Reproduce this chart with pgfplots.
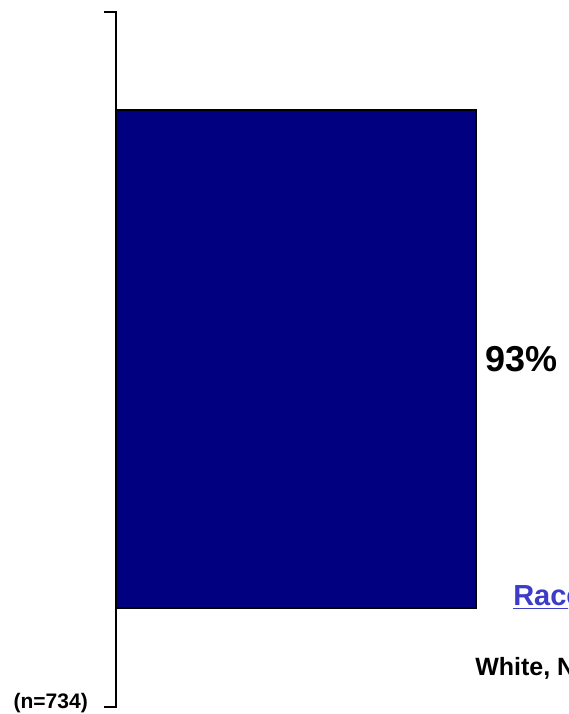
\documentclass[border=0pt]{standalone}
\usepackage{pgfplots}
\pgfplotsset{compat=1.18}
\usepackage{fontspec}
\setmainfont{Liberation Sans}
\definecolor{barnavy}{RGB}{0,0,128}
\definecolor{raceblue}{RGB}{60,60,200}
\begin{document}
\begin{tikzpicture}
\useasboundingbox (0,0) rectangle (426pt,535.5pt);
\clip (0,0) rectangle (426pt,535.5pt);
\begin{axis}[
  at={(0,0)}, anchor=south west,
  scale only axis, width=426pt, height=535.5pt,
  xmin=-29.97, xmax=116.77, ymin=0, ymax=714,
  hide axis, clip=false,
  /pgf/number format/assume math mode=true,
]
\addplot[xbar, bar width=498, fill=barnavy, draw=black, line width=0.8pt,
  nodes near coords={\pgfmathprintnumber{\pgfplotspointmeta}\%}, point meta=x,
  every node near coord/.append style={font=\bfseries\fontsize{27}{30}\selectfont, text=black, anchor=west, inner sep=0pt, xshift=6.5pt}]
  coordinates {(93,355)};
\draw[line width=1pt, black] (axis cs:-3.1,702) -- (axis cs:0,702) -- (axis cs:0,7) -- (axis cs:-3.1,7);
\node[anchor=base west, inner sep=0pt, text=raceblue, font=\bfseries\fontsize{21.75}{24}\selectfont] at (axis cs:102.56,108) {\underline{Race}};
\node[anchor=base west, inner sep=0pt, font=\bfseries\fontsize{18.75}{21}\selectfont] at (axis cs:92.74,38) {White, Non-Hispanic};
\node[anchor=base east, inner sep=0pt, font=\bfseries\fontsize{15.75}{18}\selectfont] at (axis cs:-7.23,6) {(n=734)};
\end{axis}
\end{tikzpicture}
\end{document}
